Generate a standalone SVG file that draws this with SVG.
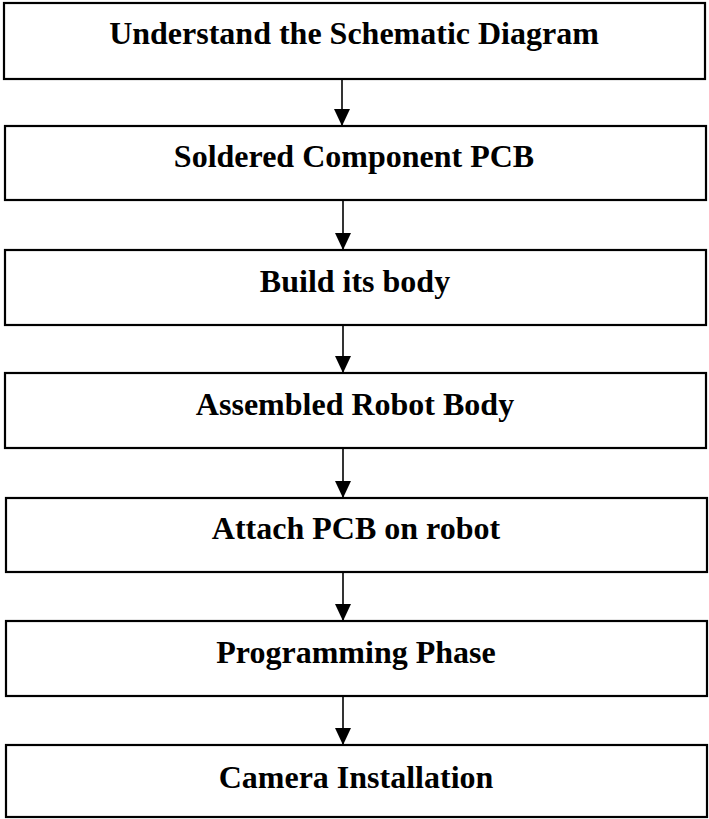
<svg xmlns="http://www.w3.org/2000/svg" width="709" height="819" viewBox="0 0 709 819">
  <style>
    .box { fill: #ffffff; stroke: #000000; stroke-width: 2.2; }
    .label { font-family: "Liberation Serif", "Times New Roman", serif; font-weight: bold; font-size: 32px; fill: #000000; text-anchor: middle; }
    .link { stroke: #000000; stroke-width: 1.6; fill: none; marker-end: url(#arrow); }
  </style>
  <defs>
    <!-- filled triangular head, tip at the end of the line -->
    <marker id="arrow" markerWidth="17" markerHeight="16" refX="17" refY="8" orient="auto" markerUnits="userSpaceOnUse" viewBox="0 0 17 16">
      <path d="M0,0 L17,8 L0,16 Z" fill="#000000"/>
    </marker>
  </defs>
  <rect width="709" height="819" fill="#ffffff"/>

  <g id="connectors">
    <line class="link" x1="342" y1="79" x2="342" y2="126"/>
    <line class="link" x1="343" y1="200" x2="343" y2="250"/>
    <line class="link" x1="343" y1="325" x2="343" y2="373"/>
    <line class="link" x1="343" y1="448" x2="343" y2="498"/>
    <line class="link" x1="343" y1="572" x2="343" y2="621"/>
    <line class="link" x1="343" y1="696" x2="343" y2="745"/>
  </g>

  <g id="step1">
    <rect class="box" x="4" y="3" width="701" height="76"/>
    <text class="label" x="354" y="44">Understand the Schematic Diagram</text>
  </g>
  <g id="step2">
    <rect class="box" x="5" y="126" width="701" height="74"/>
    <text class="label" x="354" y="167">Soldered Component PCB</text>
  </g>
  <g id="step3">
    <rect class="box" x="5" y="250" width="701" height="75"/>
    <text class="label" x="355" y="292">Build its body</text>
  </g>
  <g id="step4">
    <rect class="box" x="5" y="373" width="701" height="75"/>
    <text class="label" x="355" y="415">Assembled Robot Body</text>
  </g>
  <g id="step5">
    <rect class="box" x="6" y="498" width="701" height="74"/>
    <text class="label" x="356" y="539">Attach PCB on robot</text>
  </g>
  <g id="step6">
    <rect class="box" x="6" y="621" width="701" height="75"/>
    <text class="label" x="356" y="663">Programming Phase</text>
  </g>
  <g id="step7">
    <rect class="box" x="6" y="745" width="701" height="72"/>
    <text class="label" x="356" y="788">Camera Installation</text>
  </g>
</svg>
